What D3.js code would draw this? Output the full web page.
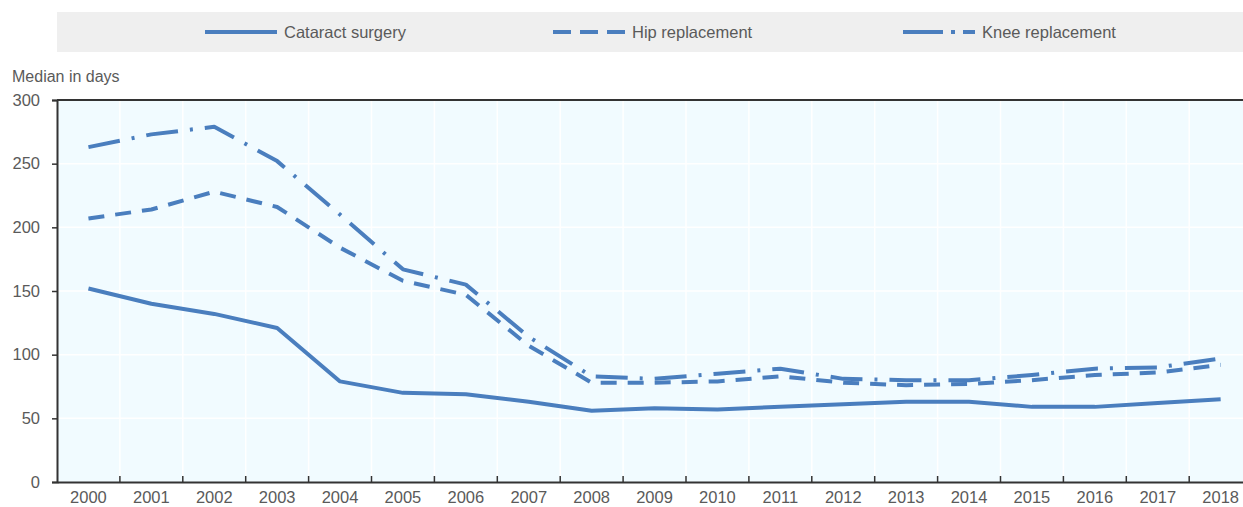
<!DOCTYPE html>
<html>
<head>
<meta charset="utf-8">
<script src="https://cdn.jsdelivr.net/npm/d3@7"></script>
<style>
  html, body { margin: 0; padding: 0; background: #ffffff; }
  svg { display: block; font-family: "Liberation Sans", Arial, sans-serif; }
</style>
</head>
<body>
<svg id="chart" width="1243" height="507"></svg>
<script>
const years = ["2000","2001","2002","2003","2004","2005","2006","2007","2008","2009","2010","2011","2012","2013","2014","2015","2016","2017","2018"];
const cataract = [152,140,132,121,79,70,69,63,56,58,57,59,61,63,63,59,59,62,65];
const hip      = [207,214,228,216,184,158,147,107,78,78,79,83,78,76,77,80,84,86,92];
const knee     = [263,273,279,252,210,167,155,114,83,81,85,89,81,80,80,84,89,90,97];
const seriesNames = ["Cataract surgery","Hip replacement","Knee replacement"];
const yTicks = [0,50,100,150,200,250,300];

(function () {
const color = "#4a7ebe";
const textColor = "#5a5a5a";
const dashes = ["none", "16,11", "32,12,3,12"];
const legendDashes = ["none", "18,9", "40,8,4,8"];

const svg = d3.select("#chart");
const pLeft = 57, pTop = 100, pBottom = 482, pRight = 57 + 19 * 62.9;

const x = d3.scaleBand().domain(years).range([pLeft, pRight]).padding(0);
const y = d3.scaleLinear().domain([0, 300]).range([pBottom, pTop]);

// legend box
svg.append("rect").attr("x", 57).attr("y", 12).attr("width", 1243 - 57).attr("height", 40).attr("fill", "#efefef");
const legendX = [205, 553, 903];
seriesNames.forEach((name, i) => {
  const g = svg.append("g");
  g.append("line").attr("x1", legendX[i]).attr("x2", legendX[i] + 72)
    .attr("y1", 32).attr("y2", 32)
    .attr("stroke", color).attr("stroke-width", 4)
    .attr("stroke-dasharray", legendDashes[i]);
  g.append("text").attr("x", legendX[i] + 79).attr("y", 38)
    .attr("font-size", 16.5).attr("fill", textColor).text(name);
});

// plot background
svg.append("rect").attr("x", pLeft).attr("y", pTop).attr("width", pRight - pLeft).attr("height", pBottom - pTop).attr("fill", "#f1fbff");

// grid lines
svg.append("g").selectAll("line").data(yTicks.filter(d => d > 0 && d < 300)).join("line")
  .attr("x1", pLeft).attr("x2", pRight).attr("y1", d => y(d)).attr("y2", d => y(d))
  .attr("stroke", "#ffffff").attr("stroke-width", 1.5);
svg.append("g").selectAll("line").data(years.slice(1)).join("line")
  .attr("x1", d => x(d)).attr("x2", d => x(d)).attr("y1", pTop).attr("y2", pBottom)
  .attr("stroke", "#ffffff").attr("stroke-width", 1.5);

// y axis
const yAxis = d3.axisLeft(y).tickValues(yTicks).tickSize(5).tickPadding(12);
const gy = svg.append("g").attr("transform", `translate(${pLeft},0)`).call(yAxis);
gy.select(".domain").attr("stroke", "#333").attr("stroke-width", 2);
gy.selectAll(".tick line").attr("stroke", "#333").attr("stroke-width", 1.5);
gy.selectAll(".tick text").attr("font-size", 16.5).attr("fill", textColor).attr("font-family", "Liberation Sans, Arial, sans-serif");

// top border
svg.append("line").attr("x1", pLeft).attr("x2", pRight).attr("y1", pTop).attr("y2", pTop)
  .attr("stroke", "#333").attr("stroke-width", 2);

// x axis
const xAxis = d3.axisBottom(x).tickSize(0).tickPadding(9);
const gx = svg.append("g").attr("transform", `translate(0,${pBottom})`).call(xAxis);
gx.select(".domain").attr("stroke", "#333").attr("stroke-width", 2);
gx.selectAll(".tick text").attr("font-size", 16.5).attr("fill", textColor).attr("font-family", "Liberation Sans, Arial, sans-serif");
svg.append("g").selectAll("line").data(years.slice(1)).join("line")
  .attr("x1", d => x(d)).attr("x2", d => x(d)).attr("y1", pBottom).attr("y2", pBottom - 6)
  .attr("stroke", "#333").attr("stroke-width", 1.5);

// y label
svg.append("text").attr("x", 12).attr("y", 82).attr("font-size", 16).attr("fill", textColor).text("Median in days");

// lines
const line = d3.line().x((d, i) => x(years[i]) + x.bandwidth() / 2).y(d => y(d));
[cataract, hip, knee].forEach((s, i) => {
  svg.append("path").datum(s).attr("d", line)
    .attr("fill", "none").attr("stroke", color).attr("stroke-width", 4)
    .attr("stroke-linejoin", "round")
    .attr("stroke-dasharray", dashes[i]);
});
})();
</script>
</body>
</html>
